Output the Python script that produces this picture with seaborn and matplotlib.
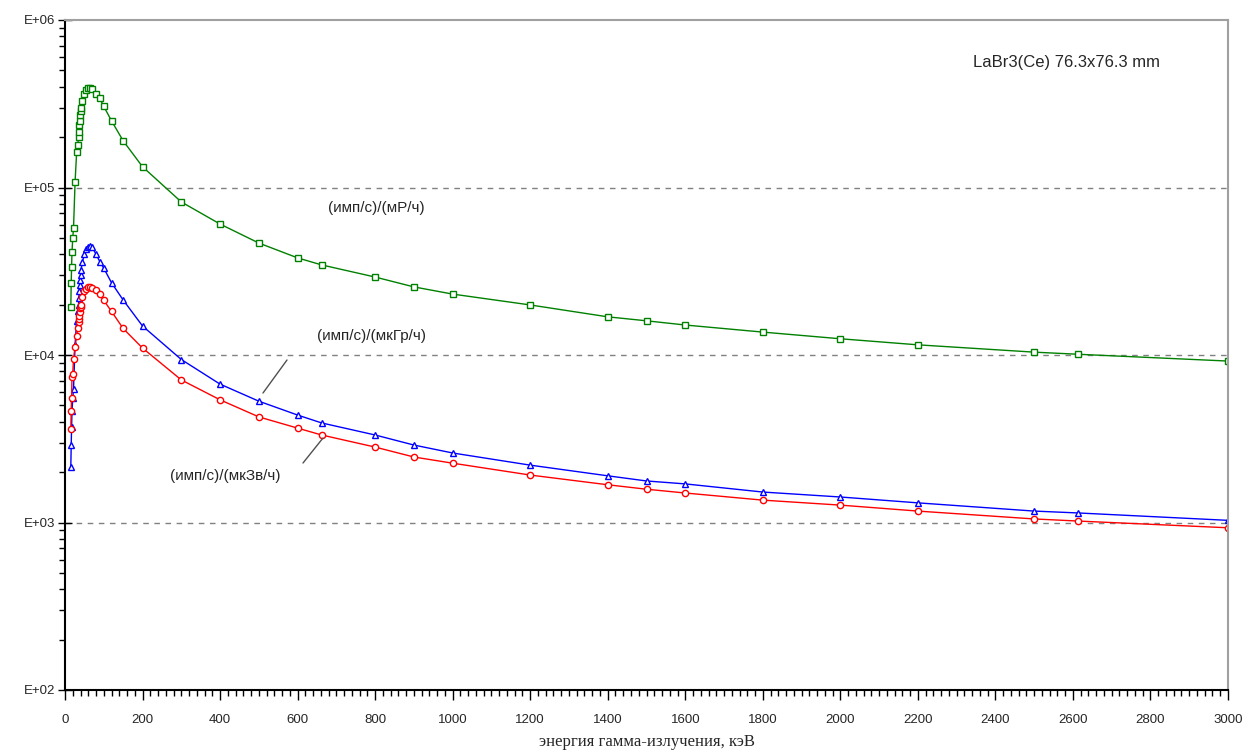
import numpy as np
import matplotlib
matplotlib.use("Agg")
import matplotlib.pyplot as plt
import seaborn as sns
from matplotlib.ticker import FixedLocator, MultipleLocator, LogLocator, NullFormatter

# ---- data (energy in keV) ----
energy = [15, 16, 17, 18, 20, 22, 26, 30, 33, 35, 36, 37, 38, 39, 40, 41, 45, 50, 55,
          60, 65, 70, 80, 90, 100, 120, 150, 200, 300, 400, 500, 600, 662, 800, 900,
          1000, 1200, 1400, 1500, 1600, 1800, 2000, 2200, 2500, 2614, 3000]

cps_per_mR = [1.93e4, 2.68e4, 3.37e4, 4.1e4, 4.98e4, 5.75e4, 1.08e5, 1.62e5, 1.8e5, 2.0e5,
              2.15e5, 2.35e5, 2.5e5, 2.7e5, 2.85e5, 3.0e5, 3.3e5, 3.6e5, 3.8e5,
              3.92e5, 3.93e5, 3.85e5, 3.6e5, 3.4e5, 3.05e5, 2.5e5, 1.9e5, 1.33e5, 8.2e4,
              6.05e4, 4.66e4, 3.8e4, 3.45e4, 2.92e4, 2.55e4,
              2.31e4, 1.99e4, 1.69e4, 1.60e4, 1.51e4, 1.37e4, 1.25e4, 1.15e4, 1.04e4, 1.01e4, 9.2e3]

cps_per_uGy = [2.15e3, 2.9e3, 3.7e3, 4.6e3, 5.5e3, 6.3e3, 1.15e4, 1.6e4, 1.82e4, 2.0e4,
               2.2e4, 2.4e4, 2.6e4, 2.8e4, 3.0e4, 3.2e4, 3.6e4, 4.0e4, 4.3e4,
               4.4e4, 4.45e4, 4.4e4, 4.0e4, 3.6e4, 3.3e4, 2.7e4, 2.13e4, 1.49e4, 9.4e3,
               6.7e3, 5.3e3, 4.38e3, 3.93e3, 3.33e3, 2.9e3,
               2.6e3, 2.2e3, 1.9e3, 1.77e3, 1.70e3, 1.52e3, 1.42e3, 1.31e3, 1.17e3, 1.14e3, 1.03e3]

cps_per_uSv = [3.6e3, 4.6e3, 5.5e3, 7.4e3, 7.7e3, 9.5e3, 1.12e4, 1.3e4, 1.44e4, 1.58e4,
               1.65e4, 1.7e4, 1.8e4, 1.9e4, 1.94e4, 2.0e4, 2.23e4, 2.4e4, 2.48e4,
               2.55e4, 2.56e4, 2.52e4, 2.45e4, 2.3e4, 2.12e4, 1.82e4, 1.44e4, 1.1e4, 7.1e3,
               5.4e3, 4.27e3, 3.66e3, 3.33e3, 2.82e3, 2.46e3,
               2.26e3, 1.92e3, 1.68e3, 1.58e3, 1.50e3, 1.36e3, 1.27e3, 1.17e3, 1.05e3, 1.02e3, 9.3e2]

y_ticks = [1e2, 1e3, 1e4, 1e5, 1e6]
y_tick_labels = ["E+02", "E+03", "E+04", "E+05", "E+06"]
x_ticks = list(range(0, 3001, 200))

sns.set_style("white")
plt.rcParams['font.family'] = ['Liberation Sans', 'DejaVu Sans']

fig = plt.figure(figsize=(12.46, 7.56), dpi=100)
ax = fig.add_axes([65/1246, 1-690/756, (1228-65)/1246, (690-20)/756])

common = dict(ax=ax, estimator=None, sort=False, linewidth=1.0, markersize=5,
              markerfacecolor='white', markeredgewidth=1.0)
sns.lineplot(x=energy, y=cps_per_mR, color='#008000', marker='s', markeredgecolor='#008000', **common)
sns.lineplot(x=energy, y=cps_per_uGy, color='#0000FF', marker='^', markeredgecolor='#0000FF', **common)
sns.lineplot(x=energy, y=cps_per_uSv, color='#FF0000', marker='o', markeredgecolor='#FF0000',
             **{**common, 'markersize': 4.5})

ax.set_yscale('log')
ax.set_ylim(1e2, 1e6)
ax.set_xlim(0, 3000)

ax.yaxis.set_major_locator(FixedLocator(y_ticks))
ax.set_yticklabels(y_tick_labels)
ax.yaxis.set_minor_locator(LogLocator(base=10, subs=np.arange(2, 10)))
ax.yaxis.set_minor_formatter(NullFormatter())
ax.xaxis.set_major_locator(FixedLocator(x_ticks))
ax.set_xticklabels([str(v) for v in x_ticks])
ax.xaxis.set_minor_locator(MultipleLocator(20))

ax.tick_params(axis='both', which='both', bottom=True, left=True, top=False, right=False)
ax.tick_params(axis='both', which='major', direction='out', length=7, width=1, color='black',
               labelsize=9.5, pad=3)
ax.tick_params(axis='both', which='minor', direction='out', length=4, width=1, color='black')
ax.tick_params(axis='y', which='major', direction='inout', length=10, pad=2)
ax.tick_params(axis='x', which='major', pad=10)

for v in [1e3, 1e4, 1e5]:
    ax.axhline(v, color='#808080', linestyle=(0, (4, 4)), linewidth=1.0, zorder=0)

for s in ['left', 'bottom']:
    ax.spines[s].set_color('black')
    ax.spines[s].set_linewidth(1.5)
for s in ['top', 'right']:
    ax.spines[s].set_color('#A0A0A0')
    ax.spines[s].set_linewidth(1.5)

ax.set_xlabel("энергия гамма-излучения, кэВ", family=['Liberation Serif', 'DejaVu Serif'],
              fontsize=12, labelpad=6)
ax.set_ylabel("")

ax.text(1160/1246, 1-62/756, "LaBr3(Ce) 76.3x76.3 mm", transform=fig.transFigure,
        ha='right', va='center', fontsize=12)
ax.text(376/1246, 1-208/756, "(имп/с)/(мР/ч)", transform=fig.transFigure,
        ha='center', va='center', fontsize=11)
ax.text(371/1246, 1-336/756, "(имп/с)/(мкГр/ч)", transform=fig.transFigure,
        ha='center', va='center', fontsize=11)
ax.text(225/1246, 1-476/756, "(имп/с)/(мкЗв/ч)", transform=fig.transFigure,
        ha='center', va='center', fontsize=11)

# leader lines
fig.add_artist(plt.Line2D([263/1246, 287/1246], [1-393/756, 1-360/756],
                          color='#505050', linewidth=1.0))
fig.add_artist(plt.Line2D([303/1246, 323/1246], [1-463/756, 1-438/756],
                          color='#505050', linewidth=1.0))

fig.savefig("out.png", dpi=100)
